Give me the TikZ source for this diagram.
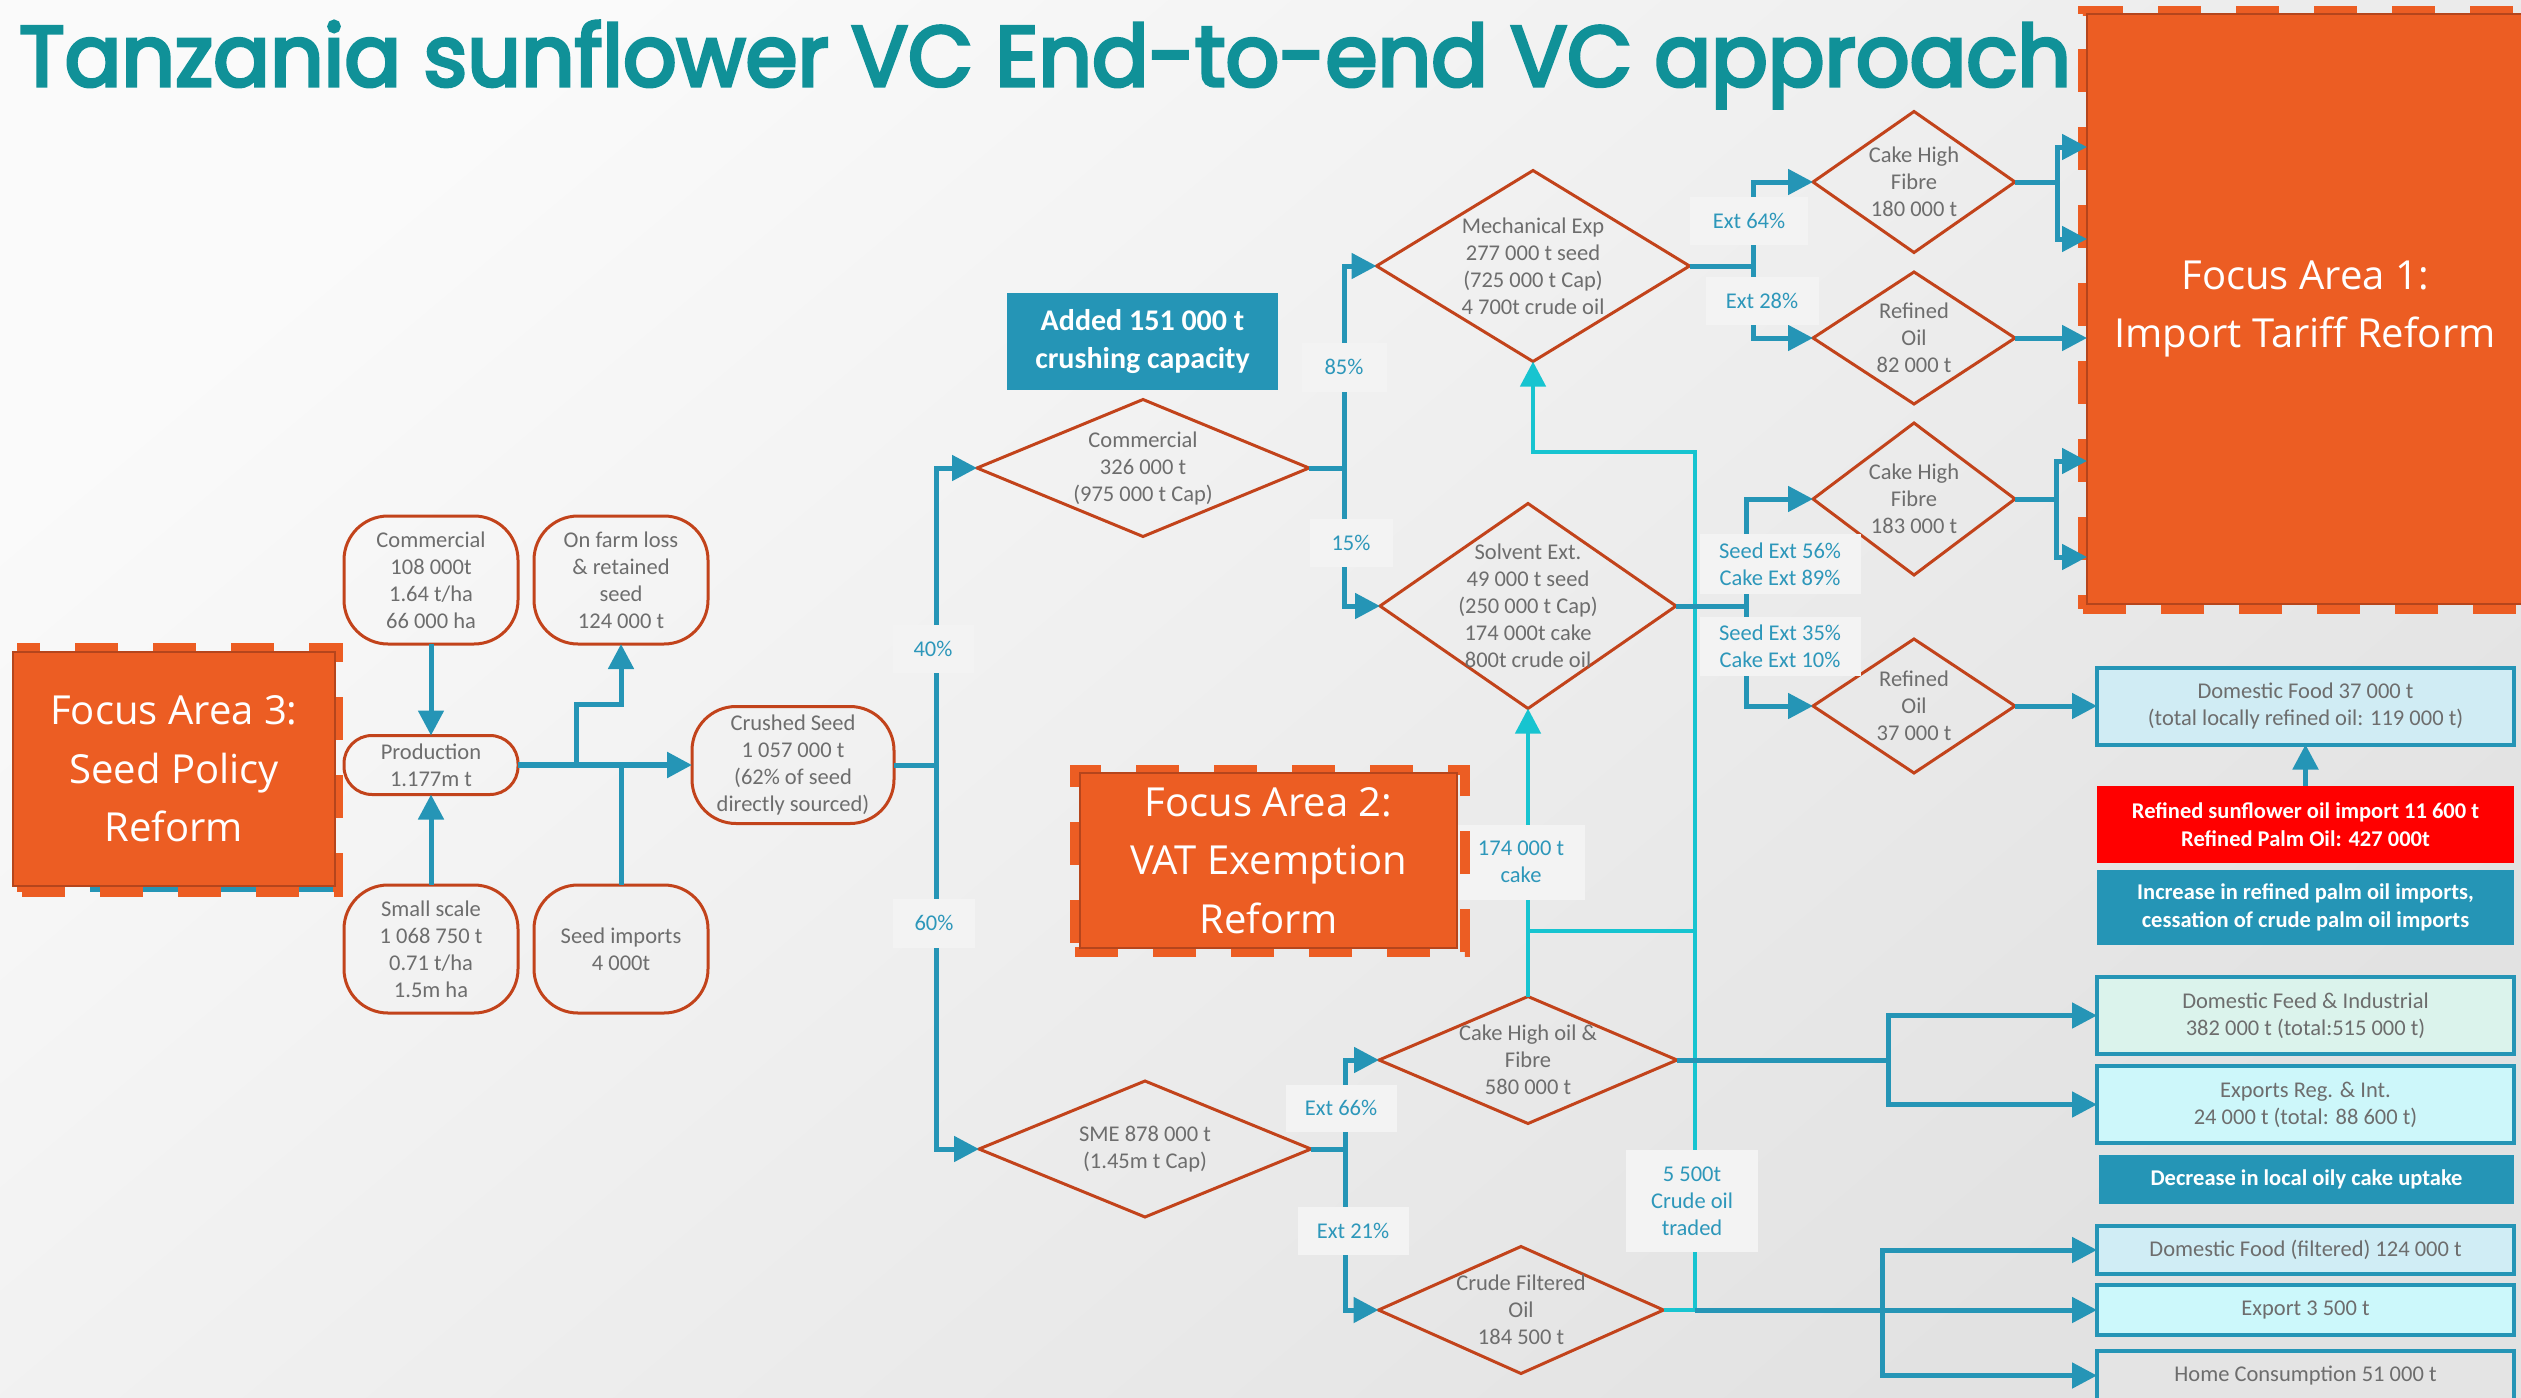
\documentclass[tikz,border=0pt]{standalone}
\usepackage{fontspec}
\usepackage{graphicx}
\setmainfont{Carlito}
\newfontfamily\openfont{Open Sans}
\newfontfamily\titlefont{Poppins}[FakeBold=4]
\usetikzlibrary{shapes.geometric,arrows.meta,calc}

\definecolor{cBlue}{HTML}{2595B6}
\definecolor{cCyan}{HTML}{17C4D0}
\definecolor{cRust}{HTML}{C2431B}
\definecolor{cOrange}{HTML}{EC5D23}
\definecolor{cOrangeEdge}{HTML}{B5451C}
\definecolor{cGray}{HTML}{6D6D6D}
\definecolor{cLab}{HTML}{F3F3F3}
\definecolor{cLblue}{HTML}{2D97BA}
\definecolor{cTitle}{HTML}{109198}
\definecolor{cRed}{HTML}{FF0000}
\definecolor{cFood}{HTML}{D0ECF4}
\definecolor{cFeed}{HTML}{DBF3EC}
\definecolor{cExp}{HTML}{CDF7FA}
\definecolor{cFilt}{HTML}{D0EDF5}
\definecolor{cExpB}{HTML}{CCF8FB}
\definecolor{cHome}{HTML}{E4E4E4}
\definecolor{cBgA}{HTML}{FAFAFA}
\definecolor{cBgB}{HTML}{E2E2E2}

\newcommand\dtxt{\fontsize{22.5}{27}\selectfont}
\newcommand\btxt{\bfseries\fontsize{22.5}{28}\selectfont}
\newcommand\addtxt{\bfseries\fontsize{30}{38}\selectfont}
\newcommand\ftxt{\openfont\fontsize{40}{58.5}\selectfont}

\begin{document}
\begin{tikzpicture}[x=1pt,y=-1pt,
  flow/.style={draw=cBlue,line width=5pt},
  cflow/.style={draw=cCyan,line width=4.5pt},
  arrowed/.style={-{Triangle[length=25pt,width=25pt]}},
  dia/.style={shape=diamond,draw=cRust,line width=3pt,inner sep=0pt,outer sep=0pt},
  dtext/.style={font=\dtxt,text=cGray,align=center,inner sep=0pt},
  rnode/.style={draw=cRust,line width=3pt,rounded corners=44pt,inner sep=0pt,outer sep=0pt,
    align=center,font=\dtxt,text=cGray,minimum width=174pt,minimum height=128pt},
  lab/.style={fill=cLab,text=cLblue,font=\dtxt,align=center,inner sep=0pt},
  sink/.style={draw=cBlue,line width=4pt,minimum width=417pt,inner sep=0pt,outer sep=0pt,
    align=center,font=\dtxt,text=cGray},
  note/.style={minimum width=417pt,inner sep=0pt,outer sep=0pt,align=center,font=\btxt,text=white},
  focus/.style={fill=cOrange,draw=cOrangeEdge,line width=2.5pt,text=white,align=center,
    font=\ftxt,inner sep=0pt,outer sep=0pt},
  focusframe/.style={draw=cOrange,line width=10pt,dash pattern=on 43pt off 35pt}]

\useasboundingbox (0,0) rectangle (2521,1397);
\shade[shading=axis,top color=cBgA,bottom color=cBgB,shading angle=40] (0,0) rectangle (2521,1397);

% title
\node[anchor=base west,inner sep=0pt,text=cTitle] (title) at (19,86)
  {\resizebox{2050pt}{65pt}{\titlefont Tanzania sunflower VC End-to-end VC approach}};

% seed supply
\node[rnode] (comm) at (431,580) {Commercial\\108 000t\\1.64 t/ha\\66 000 ha};
\node[rnode] (loss) at (621,580) {On farm loss\\\& retained\\seed\\124 000 t};
\node[rnode,minimum height=59pt,rounded corners=28pt] (prod) at (431,765) {Production\\1.177m t};
\node[rnode] (small) at (431,949) {Small scale\\1 068 750 t\\0.71 t/ha\\1.5m ha};
\node[rnode] (imp) at (621,949) {Seed imports\\4 000t};
\node[rnode,minimum width=202pt,minimum height=117pt] (crush) at (793,765)
  {Crushed Seed\\1 057 000 t\\(62\% of seed\\directly sourced)};

% processing diamonds
\node[dia,minimum width=332pt,minimum height=137pt] (comdia) at (1143,468) {};
\node[dia,minimum width=313pt,minimum height=191pt] (mech) at (1533,266) {};
\node[dia,minimum width=296pt,minimum height=205pt] (solv) at (1528,606) {};
\node[dia,minimum width=332pt,minimum height=136pt] (sme) at (1145,1149) {};
\node[dia,minimum width=298pt,minimum height=127pt] (cakeoil) at (1528,1060) {};
\node[dia,minimum width=285pt,minimum height=127pt] (crude) at (1521,1310) {};
\node[dia,minimum width=202pt,minimum height=141pt] (chf1) at (1914,182) {};
\node[dia,minimum width=202pt,minimum height=132pt] (ro1) at (1914,338) {};
\node[dia,minimum width=202pt,minimum height=152pt] (chf2) at (1914,499) {};
\node[dia,minimum width=202pt,minimum height=134pt] (ro2) at (1914,706) {};

% outlets
\node[sink,fill=cFood,minimum height=77pt] (dfood) at (2305.5,706) {Domestic Food 37 000 t\\(total locally refined oil: 119 000 t)};
\node[note,fill=cRed,minimum height=77pt] (red) at (2305.5,824.5) {Refined sunflower oil import 11 600 t\\Refined Palm Oil: 427 000t};
\node[note,fill=cBlue,minimum height=75pt] (incr) at (2305.5,907.5) {Increase in refined palm oil imports,\\cessation of crude palm oil imports};
\node[sink,fill=cFeed,minimum height=77pt] (dfeed) at (2305.5,1015.5) {Domestic Feed \& Industrial\\382 000 t (total:515 000 t)};
\node[sink,fill=cExp,minimum height=77pt] (exps) at (2305.5,1104.5) {Exports Reg. \& Int.\\24 000 t (total: 88 600 t)};
\node[note,fill=cBlue,minimum height=49pt,minimum width=415pt] (decr) at (2306.5,1179.5) {Decrease in local oily cake uptake};
\node[sink,fill=cFilt,minimum height=48pt] (dff) at (2305.5,1250) {Domestic Food (filtered) 124 000 t};
\node[sink,fill=cExpB,minimum height=50pt] (exp35) at (2305.5,1310) {Export 3 500 t};
\node[sink,fill=cHome,minimum height=49pt] (home) at (2305.5,1375.5) {Home Consumption 51 000 t};

\node[fill=cBlue,text=white,font=\addtxt,align=center,inner sep=0pt,
  minimum width=271pt,minimum height=97pt] (added) at (1142.5,341.5) {Added 151 000 t\\crushing capacity};

% focus area 1
\node[focusframe,minimum width=462pt,minimum height=598pt] (f1frame) at (2314,310) {};
\node[focus,minimum width=436pt,minimum height=590pt] (f1) at (2305,309) {Focus Area 1:\\Import Tariff Reform};

% junctions
\coordinate (jl) at (576,765);
\coordinate (jlup) at (621,704);
\coordinate (j1) at (936,765);
\coordinate (j2) at (1344,468);
\coordinate (j3) at (1753,266);
\coordinate (j4) at (1746,606);
\coordinate (j5) at (1345,1149);
\coordinate (j6) at (2057,182);
\coordinate (j7) at (2056,499);
\coordinate (j8) at (1888,1060);
\coordinate (cx) at (1695,1310);
\coordinate (j9) at (1882,1310);
\coordinate (cy) at (1695,452);
\coordinate (cz) at (1695,931);

% cyan cake and crude oil returns
\draw[cflow] (crude.east) -- (cx);
\draw[cflow,arrowed] (cx) -- (cy) -| (mech.south);
\draw[cflow,arrowed] (cakeoil.north) -- (solv.south);
\draw[cflow] (cakeoil.north |- cz) -- (cz);

% seed flows
\draw[flow,arrowed] (comm.south) -- (prod.north);
\draw[flow,arrowed] (small.north) -- (prod.south);
\draw[flow,line width=5.5pt,arrowed] (prod.east) -- (crush.west);
\draw[flow,arrowed] (jl) |- (jlup) -- (loss.south);
\draw[flow] (imp.north) -- (imp.north |- prod.east);
\draw[flow] (crush.east) -- (j1);
\draw[flow,arrowed] (j1) |- (comdia.west);
\draw[flow,arrowed] (j1) |- (sme.west);
\draw[flow] (comdia.east) -- (j2);
\draw[flow,arrowed] (j2) |- (mech.west);
\draw[flow,arrowed] (j2) |- (solv.west);
\draw[flow] (mech.east) -- (j3);
\draw[flow,arrowed] (j3) |- (chf1.west);
\draw[flow,arrowed] (j3) |- (ro1.west);
\draw[flow] (solv.east) -- (j4);
\draw[flow,arrowed] (j4) |- (chf2.west);
\draw[flow,arrowed] (j4) |- (ro2.west);
\draw[flow] (sme.east) -- (j5);
\draw[flow,arrowed] (j5) |- (cakeoil.west);
\draw[flow,arrowed] (j5) |- (crude.west);
\draw[flow] (chf1.east) -- (j6);
\draw[flow,arrowed] (j6) |- (f1.west |- 0,147);
\draw[flow,arrowed] (j6) |- (f1.west |- 0,239);
\draw[flow,arrowed] (ro1.east) -- (ro1.east -| f1.west);
\draw[flow] (chf2.east) -- (j7);
\draw[flow,arrowed] (j7) |- (f1.west |- 0,461);
\draw[flow,arrowed] (j7) |- (f1.west |- 0,557);
\draw[flow,arrowed] (ro2.east) -- (dfood.west);
\draw[flow,arrowed] (red.north) -- (dfood.south);
\draw[flow] (cakeoil.east) -- (j8);
\draw[flow,arrowed] (j8) |- (dfeed.west);
\draw[flow,arrowed] (j8) |- (exps.west);
\draw[flow] (cx) -- (j9);
\draw[flow,arrowed] (j9) |- (dff.west);
\draw[flow,arrowed] (j9) -- (exp35.west);
\draw[flow,arrowed] (j9) |- (home.west);

% share labels
\node[lab,minimum width=81pt,minimum height=48pt] (l40) at (933,649) {40\%};
\node[lab,minimum width=82pt,minimum height=49pt] (l60) at (934,923) {60\%};
\node[lab,minimum width=85pt,minimum height=49pt] (l85) at (1344,367) {85\%};
\node[lab,minimum width=83pt,minimum height=48pt] (l15) at (1351,543) {15\%};
\node[lab,minimum width=118pt,minimum height=48pt] (l64) at (1749,221) {Ext 64\%};
\node[lab,minimum width=113pt,minimum height=48pt] (l28) at (1762,301) {Ext 28\%};
\node[lab,minimum width=161pt,minimum height=60pt] (l56) at (1780,564) {Seed Ext 56\%\\Cake Ext 89\%};
\node[lab,minimum width=161pt,minimum height=59pt] (l35) at (1780,646) {Seed Ext 35\%\\Cake Ext 10\%};
\node[lab,minimum width=111pt,minimum height=47pt] (l66) at (1341,1108) {Ext 66\%};
\node[lab,minimum width=111pt,minimum height=48pt] (l21) at (1353,1231) {Ext 21\%};
\node[lab,minimum width=128pt,minimum height=75pt] (lcake) at (1521,862) {174 000 t\\cake};
\node[lab,minimum width=132pt,minimum height=102pt] (lcrude) at (1692,1201) {5 500t\\Crude oil\\traded};

% diamond texts
\node[dtext] at (comdia) {Commercial\\326 000 t\\(975 000 t Cap)};
\node[dtext] at (mech) {Mechanical Exp\\277 000 t seed\\(725 000 t Cap)\\4 700t crude oil};
\node[dtext] at (solv) {Solvent Ext.\\49 000 t seed\\(250 000 t Cap)\\174 000t cake\\800t crude oil};
\node[dtext] at (sme) {SME 878 000 t\\(1.45m t Cap)};
\node[dtext] at (cakeoil) {Cake High oil \&\\Fibre\\580 000 t};
\node[dtext] at (crude) {Crude Filtered\\Oil\\184 500 t};
\node[dtext] at (chf1) {Cake High\\Fibre\\180 000 t};
\node[dtext] at (ro1) {Refined\\Oil\\82 000 t};
\node[dtext] at (chf2) {Cake High\\Fibre\\183 000 t};
\node[dtext] at (ro2) {Refined\\Oil\\37 000 t};

% focus area 2
\node[focusframe,minimum width=390pt,minimum height=182pt] (f2frame) at (1270,861) {};
\node[focus,minimum width=377pt,minimum height=175pt] (f2) at (1268.5,860.5) {Focus Area 2:\\VAT Exemption\\Reform};

% focus area 3
\draw[flow] (90,889) -- (333,889);
\node[focusframe,minimum width=316pt,minimum height=244pt] (f3frame) at (180,770) {};
\node[focus,minimum width=322pt,minimum height=234pt] (f3) at (174,769) {Focus Area 3:\\Seed Policy\\Reform};

\end{tikzpicture}
\end{document}
